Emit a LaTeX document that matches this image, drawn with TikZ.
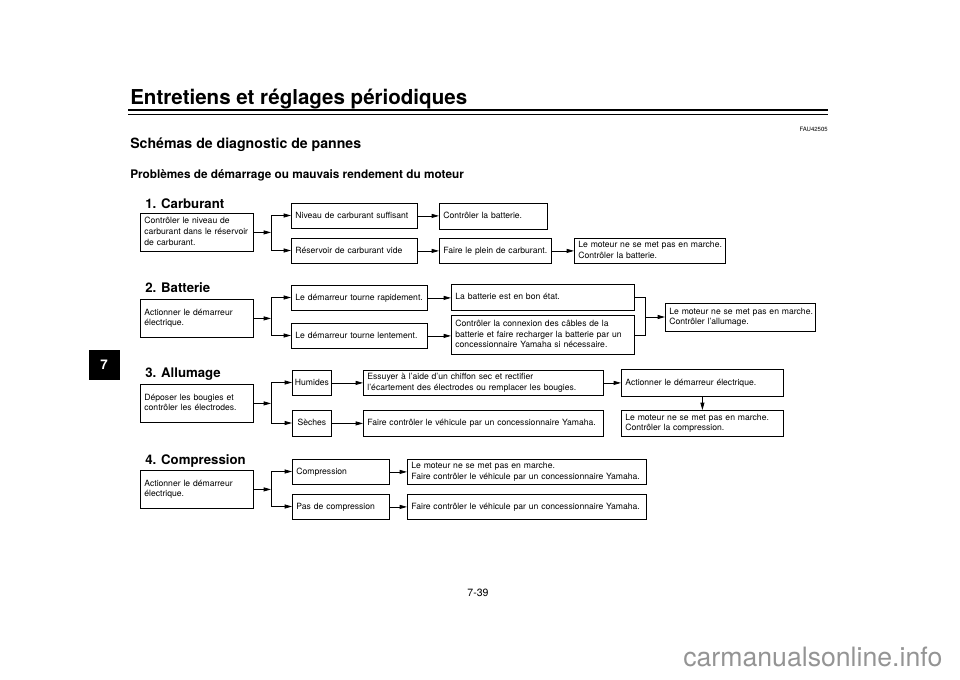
\documentclass[tikz,border=0pt]{standalone}
\usepackage{fontspec}
\setmainfont{TeX Gyre Heros}
\usetikzlibrary{arrows.meta}
\def\px{0.75pt}
\newcommand\bx[6]{\node[box, anchor=north west, text width=\dimexpr\px*(#4-#2-8)\relax, minimum height=\dimexpr\px*(#5-#3)\relax] (#1) at (#2,#3) {\begin{tabular}{@{}l@{}}#6\end{tabular}};}
\newcommand\bxc[6]{\node[box, align=center, inner xsep=0.75pt, anchor=north west, text width=\dimexpr\px*(#4-#2-2)\relax, minimum height=\dimexpr\px*(#5-#3)\relax] (#1) at (#2,#3) {\begin{tabular}{@{}c@{}}#6\end{tabular}};}
\begin{document}
\begin{tikzpicture}[x=\px, y=-\px,
  box/.style={draw, line width=0.6pt, inner xsep=3pt, inner ysep=0pt, align=left, font=\fontsize{6.45}{8.1}\selectfont},
  arr/.style={-{Triangle[length=5.5pt,width=3pt]}, line width=0.6pt},
  ln/.style={line width=0.6pt},
  sect/.style={anchor=base west, font=\bfseries\fontsize{9.9}{12}\selectfont}]
\useasboundingbox (0,0) rectangle (960,679);
% header
\node[anchor=base west, inner sep=0pt, font=\bfseries\fontsize{15.4}{18}\selectfont] (title) at (130,104) {Entretiens et réglages périodiques};
\draw[line width=2pt] (128,110) -- (828,110);
\draw[line width=0.6pt] (128,114) -- (828,114);
\node[anchor=base east, inner sep=0pt, font=\fontsize{4.5}{5}\selectfont] (code) at (828,131) {FAU42505};
\node[anchor=base west, inner sep=0pt, font=\bfseries\fontsize{10.6}{12}\selectfont] (sub) at (130,148) {Schémas de diagnostic de pannes};
\node[anchor=base west, inner sep=0pt, font=\bfseries\fontsize{8.85}{10}\selectfont] (sub2) at (130,178) {Problèmes de démarrage ou mauvais rendement du moteur};
% tab
\node[fill=black, text=white, minimum width=31*\px, minimum height=30*\px, inner sep=0pt, font=\bfseries\fontsize{10}{12}\selectfont] (tab) at (104,365) {7};
% section 1
\node[sect, inner sep=0pt] (s1) at (145,208) {1. Carburant};
\bx{A1}{140}{213}{253}{251}{Contrôler le niveau de\\carburant dans le réservoir\\de carburant.}
\bx{B1}{291}{203}{417}{228}{Niveau de carburant suffisant}
\bx{B2}{291}{238}{417}{263}{Réservoir de carburant vide}
\bx{C1}{439}{203}{547}{229}{Contrôler la batterie.}
\bx{C2}{439}{238}{551}{263}{Faire le plein de carburant.}
\bx{D2}{574}{238}{725}{263}{Le moteur ne se met pas en marche.\\Contrôler la batterie.}
\coordinate (j1t) at (271,215.5);
\coordinate (j1b) at (271,250.5);
\draw[ln] (j1t) -- (j1b);
\draw[arr] (A1.east) -- (A1.east -| j1t);
\draw[arr] (j1t) -- (j1t -| B1.west);
\draw[arr] (j1b) -- (j1b -| B2.west);
\draw[arr] (B1.east) -- (B1.east -| C1.west);
\draw[arr] (B2.east) -- (B2.east -| C2.west);
\draw[arr] (C2.east) -- (C2.east -| D2.west);
% section 2
\node[sect, inner sep=0pt] (s2) at (145,292) {2. Batterie};
\bx{A2}{140}{299}{253}{337}{Actionner le démarreur\\électrique.}
\bx{B3}{291}{285}{427}{310}{Le démarreur tourne rapidement.}
\bx{B4}{291}{323}{427}{348}{Le démarreur tourne lentement.}
\bx{C3}{451}{284}{634}{310}{La batterie est en bon état.}
\bx{C4}{451}{315}{634}{354}{Contrôler la connexion des câbles de la\\batterie et faire recharger la batterie par un\\concessionnaire Yamaha si nécessaire.}
\bx{D4}{665}{303}{815}{331}{Le moteur ne se met pas en marche.\\Contrôler l’allumage.}
\coordinate (j2t) at (271,297.5);
\coordinate (j2b) at (271,335.5);
\draw[ln] (j2t) -- (j2b);
\draw[arr] (A2.east) -- (A2.east -| j2t);
\draw[arr] (j2t) -- (j2t -| B3.west);
\draw[arr] (j2b) -- (j2b -| B4.west);
\draw[arr] (B3.east) -- (B3.east -| C3.west);
\draw[arr] (B4.east) -- (B4.east -| C4.west);
\coordinate (m2) at (645,317);
\draw[ln] (C3.east) -- (C3.east -| m2) -- (C4.east -| m2) -- (C4.east);
\draw[arr] (m2) -- (m2 -| D4.west);
% section 3
\node[sect, inner sep=0pt] (s3) at (145,377) {3. Allumage};
\bx{A3}{140}{384}{253}{422}{Déposer les bougies et\\contrôler les électrodes.}
\bxc{B5}{292}{370}{331}{395}{Humides}
\bxc{B6}{292}{410}{331}{436}{Sèches}
\bx{C5}{363}{370}{603}{395}{Essuyer à l’aide d’un chiffon sec et rectifier\\l’écartement des électrodes ou remplacer les bougies.}
\bx{C6}{363}{410}{603}{436}{Faire contrôler le véhicule par un concessionnaire Yamaha.}
\bx{D5}{621}{369}{783}{396}{Actionner le démarreur électrique.}
\bx{D6}{621}{410}{783}{436}{Le moteur ne se met pas en marche.\\Contrôler la compression.}
\coordinate (j3t) at (271,382.5);
\coordinate (j3b) at (271,423);
\draw[ln] (j3t) -- (j3b);
\draw[arr] (A3.east) -- (A3.east -| j3t);
\draw[arr] (j3t) -- (j3t -| B5.west);
\draw[arr] (j3b) -- (j3b -| B6.west);
\draw[arr] (B5.east) -- (B5.east -| C5.west);
\draw[arr] (B6.east) -- (B6.east -| C6.west);
\draw[arr] (C5.east) -- (C5.east -| D5.west);
\draw[arr] (D5.south) -- (D6.north);
% section 4
\node[sect, inner sep=0pt] (s4) at (145,464) {4. Compression};
\bx{A4}{140}{470}{253}{508}{Actionner le démarreur\\électrique.}
\bx{B7}{292}{459}{389}{484}{Compression}
\bx{B8}{292}{494}{389}{519}{Pas de compression}
\bx{C7}{407}{459}{646}{484}{Le moteur ne se met pas en marche.\\Faire contrôler le véhicule par un concessionnaire Yamaha.}
\bx{C8}{407}{494}{646}{519}{Faire contrôler le véhicule par un concessionnaire Yamaha.}
\coordinate (j4t) at (271,471.5);
\coordinate (j4b) at (271,506.5);
\draw[ln] (j4t) -- (j4b);
\draw[arr] (A4.east) -- (A4.east -| j4t);
\draw[arr] (j4t) -- (j4t -| B7.west);
\draw[arr] (j4b) -- (j4b -| B8.west);
\draw[arr] (B7.east) -- (B7.east -| C7.west);
\draw[arr] (B8.east) -- (B8.east -| C8.west);
% footer
\node[anchor=base, inner sep=0pt, font=\fontsize{7.9}{9}\selectfont] (page) at (478,596) {7-39};
\node[anchor=base west, inner sep=0pt, text=black!42, font=\fontsize{20}{24}\selectfont] (wm) at (683,666) {carmanualsonline.info};
\end{tikzpicture}
\end{document}
